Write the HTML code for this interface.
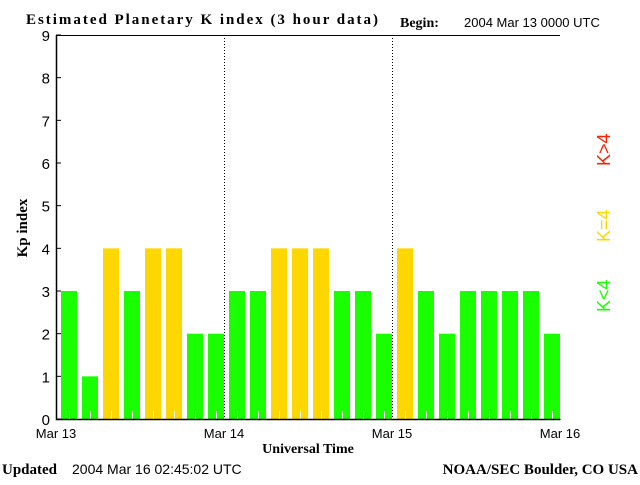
<!DOCTYPE html>
<html><head><meta charset="utf-8"><style>
body{margin:0;background:#fff;width:640px;height:480px;overflow:hidden}
svg text{font-family:"Liberation Sans",sans-serif}
.s{font-family:"Liberation Serif",serif}
</style></head><body>
<svg id="c" width="640" height="480">
<text class="s" x="26" y="24" font-size="15" font-weight="bold" textLength="352">Estimated Planetary K index (3 hour data)</text>
<text class="s" x="400" y="27" font-size="14" font-weight="bold">Begin:</text>
<text x="464" y="27" font-size="13">2004 Mar 13 0000 UTC</text>
<text class="s" x="27" y="228" font-size="15" font-weight="bold" transform="rotate(-90 27 228)" text-anchor="middle">Kp index</text>
<text class="s" x="308" y="453" font-size="14" font-weight="bold" text-anchor="middle">Universal Time</text>
<text class="s" x="2" y="474" font-size="15" font-weight="bold">Updated</text>
<text x="72" y="474" font-size="14">2004 Mar 16 02:45:02 UTC</text>
<text class="s" x="638" y="474" font-size="15" font-weight="bold" text-anchor="end">NOAA/SEC Boulder, CO USA</text>
<g font-size="18">
<text x="610" y="312" fill="#1aff00" transform="rotate(-90 610 312)">K&lt;4</text>
<text x="610" y="242" fill="#ffd700" transform="rotate(-90 610 242)">K=4</text>
<text x="610" y="166" fill="#ff2000" transform="rotate(-90 610 166)">K&gt;4</text>
</g>
<g id="plot"></g>
</svg>
<script>
const kpValues=[3,1,4,3,4,4,2,2,3,3,4,4,4,3,3,2,4,3,2,3,3,3,3,2];
const dayLabels=["Mar 13","Mar 14","Mar 15","Mar 16"];
const yTicks=[0,1,2,3,4,5,6,7,8,9];
const NS="http://www.w3.org/2000/svg";
const PL=56,PR=560,PT=35,PB=419;
const slot=(PR-PL)/kpValues.length;
const ys=v=>PB-(v/9)*(PB-PT);
const xs=i=>PL+i*slot;
const plotG=document.getElementById('plot');
function mk(t,a){const e=document.createElementNS(NS,t);for(const k in a)e.setAttribute(k,a[k]);plotG.appendChild(e);return e;}
kpValues.forEach((v,i)=>{
 const col=v<4?"#1aff00":v==4?"#ffd700":"#ff2000";
 const r=mk('rect',{x:xs(i)+5,y:ys(v),width:16,height:PB-ys(v),fill:col});
 
 
 const t=mk('line',{x1:xs(i)+13.5,x2:xs(i)+13.5,y1:PB-8,y2:PB,stroke:"#fff"});
 
 
});
[1,2].forEach(d=>{const l=mk('line',{x1:PL+d*8*slot+0.5,x2:PL+d*8*slot+0.5,y1:PT,y2:PB,stroke:"#000","stroke-dasharray":"1,2"});
 
 });
const axPath=mk('path',{d:`M${PL+0.5},${PT}V${PB+0.5}H${PR+0.5}`,fill:"none",stroke:"#000","stroke-width":1.5});


const topBorder=mk('line',{x1:PL,x2:PR,y1:PT+0.5,y2:PT+0.5,stroke:"#000"});


yTicks.forEach(v=>{
 const tk=mk('line',{x1:PL,x2:PL+5,y1:ys(v),y2:ys(v),stroke:"#000"});
 
 
 const tx=mk('text',{x:50,y:ys(v)+6,"font-size":15,"text-anchor":"end"});tx.textContent=v;
 
 
});
dayLabels.forEach((d,i)=>{
 const tx=mk('text',{x:PL+i*8*slot,y:438,"font-size":13,"text-anchor":"middle"});tx.textContent=d;
 
 
});
</script>
</body></html>
